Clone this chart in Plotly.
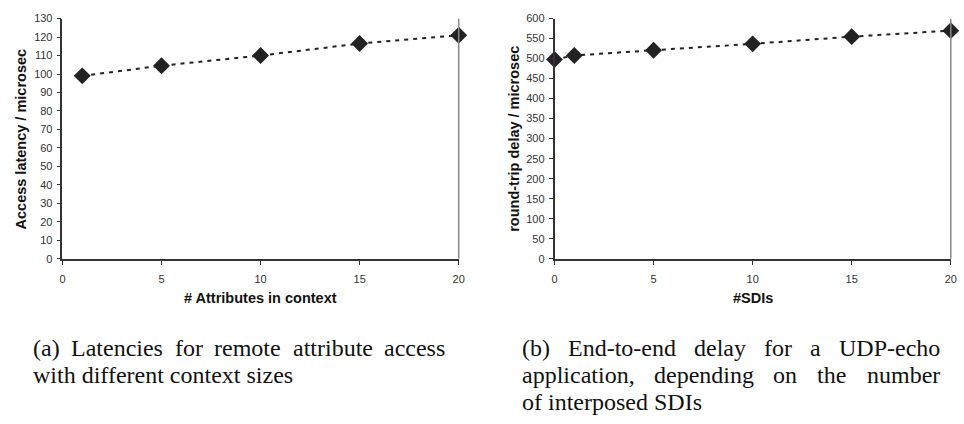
import plotly.graph_objects as go

# Data
attr_x = [1, 5, 10, 15, 20]
attr_latency = [99, 104.5, 110, 116.5, 121]
sdi_x = [0, 1, 5, 10, 15, 20]
sdi_delay = [498, 508, 521, 537, 555, 570]

y1_ticks = list(range(0, 131, 10))
y2_ticks = list(range(0, 601, 50))
x_ticks = [0, 5, 10, 15, 20]

caption_a = ["(a) Latencies for remote attribute access",
             "with different context sizes"]
caption_b = ["(b) End-to-end delay for a UDP-echo",
             "application, depending on the number",
             "of interposed SDIs"]

W, H = 964, 424
def px(x): return x / W
def py(y): return 1 - y / H

fig = go.Figure()
line_style = dict(color="#222222", width=2, dash="4px,5px")
marker_style = dict(symbol="diamond", size=13, color="#222222")

fig.add_trace(go.Scatter(x=attr_x, y=attr_latency, mode="lines+markers",
                         line=line_style, marker=marker_style, xaxis="x", yaxis="y",
                         cliponaxis=False))
fig.add_trace(go.Scatter(x=sdi_x, y=sdi_delay, mode="lines+markers",
                         line=line_style, marker=marker_style, xaxis="x2", yaxis="y2",
                         cliponaxis=False))

ydom = [py(260), py(13)]
tickfont = dict(family="Liberation Sans, Arial", size=11, color="#333333")
common_x = dict(range=[0, 20], tickvals=x_ticks, showgrid=False, zeroline=False,
                showline=True, linecolor="#333333", linewidth=1.5,
                ticks="outside", ticklen=5, tickcolor="#333333", tickfont=tickfont,
                ticklabelstandoff=4)
common_y = dict(showgrid=False, zeroline=False, showline=True, linecolor="#333333",
                linewidth=1.5, ticks="outside", ticklen=4, tickcolor="#333333",
                tickfont=tickfont, ticklabelstandoff=2)

fig.update_layout(
    width=W, height=H, margin=dict(l=0, r=0, t=0, b=0),
    paper_bgcolor="white", plot_bgcolor="white", showlegend=False,
    xaxis=dict(domain=[px(60), px(460)], anchor="y", **common_x),
    yaxis=dict(domain=ydom, anchor="x", range=[0, 130], tickvals=y1_ticks, **common_y),
    xaxis2=dict(domain=[px(556.7), px(956.7)], anchor="y2", **common_x),
    yaxis2=dict(domain=ydom, anchor="x2", range=[0, 600], tickvals=y2_ticks, **common_y),
)

# right borders
for xr, yr in (("x", "y"), ("x2", "y2")):
    fig.add_shape(type="line", xref=f"{xr} domain", yref=f"{yr} domain",
                  x0=1, x1=1, y0=0, y1=1, line=dict(color="#888888", width=1.5))

titlefont = dict(family="Liberation Sans, Arial", size=14.5, color="#111111")
anns = [
    dict(text="<b>Access latency / microsec</b>", x=px(18), y=py(136.5), textangle=-90),
    dict(text="<b>round-trip delay / microsec</b>", x=px(515), y=py(136.5), textangle=-90),
    dict(text="<b># Attributes in context</b>", x=px(260), y=py(301)),
    dict(text="<b>#SDIs</b>", x=px(756.7), y=py(301)),
]
for a in anns:
    fig.add_annotation(xref="paper", yref="paper", showarrow=False,
                       xanchor="center", yanchor="middle", font=titlefont, **a)

# Times / Liberation Serif advance widths (per 1000 em) for justification
TW = {'a': 444, 'b': 500, 'c': 444, 'd': 500, 'e': 444, 'f': 333, 'g': 500, 'h': 500,
      'i': 278, 'j': 278, 'k': 500, 'l': 278, 'm': 778, 'n': 500, 'o': 500, 'p': 500,
      'q': 500, 'r': 333, 's': 389, 't': 278, 'u': 500, 'v': 500, 'w': 722, 'x': 500,
      'y': 500, 'z': 444, 'D': 722, 'E': 611, 'I': 333, 'L': 611, 'P': 556, 'S': 556,
      'U': 722, '(': 333, ')': 333, '-': 333, ',': 250, ' ': 250}
CAP_SIZE = 24
def wwidth(s):
    return sum(TW.get(ch, 500) for ch in s) * CAP_SIZE / 1000.0

capfont = dict(family="Liberation Serif, DejaVu Serif", size=CAP_SIZE, color="#111111")

def add_line(text, x0, yc, justify_to=None):
    words = text.split(" ")
    if justify_to is None or len(words) < 2:
        fig.add_annotation(xref="paper", yref="paper", showarrow=False, text=text,
                           x=px(x0), y=py(yc), xanchor="left", yanchor="middle",
                           font=capfont, borderpad=0, borderwidth=0)
        return
    widths = [wwidth(w) for w in words]
    gap = (justify_to - x0 - sum(widths)) / (len(words) - 1)
    x = x0
    for w, wd in zip(words, widths):
        fig.add_annotation(xref="paper", yref="paper", showarrow=False, text=w,
                           x=px(x), y=py(yc), xanchor="left", yanchor="middle",
                           font=capfont, borderpad=0, borderwidth=0)
        x += wd + gap

rows = [352, 380, 408]
XA, XA_END, XB, XB_END = 30, 446, 524, 945
add_line(caption_a[0], XA, rows[0], justify_to=XA_END)
add_line(caption_a[1], XA, rows[1])
add_line(caption_b[0], XB, rows[0], justify_to=XB_END)
add_line(caption_b[1], XB, rows[1], justify_to=XB_END)
add_line(caption_b[2], XB, rows[2])

fig.write_html("out.html")
